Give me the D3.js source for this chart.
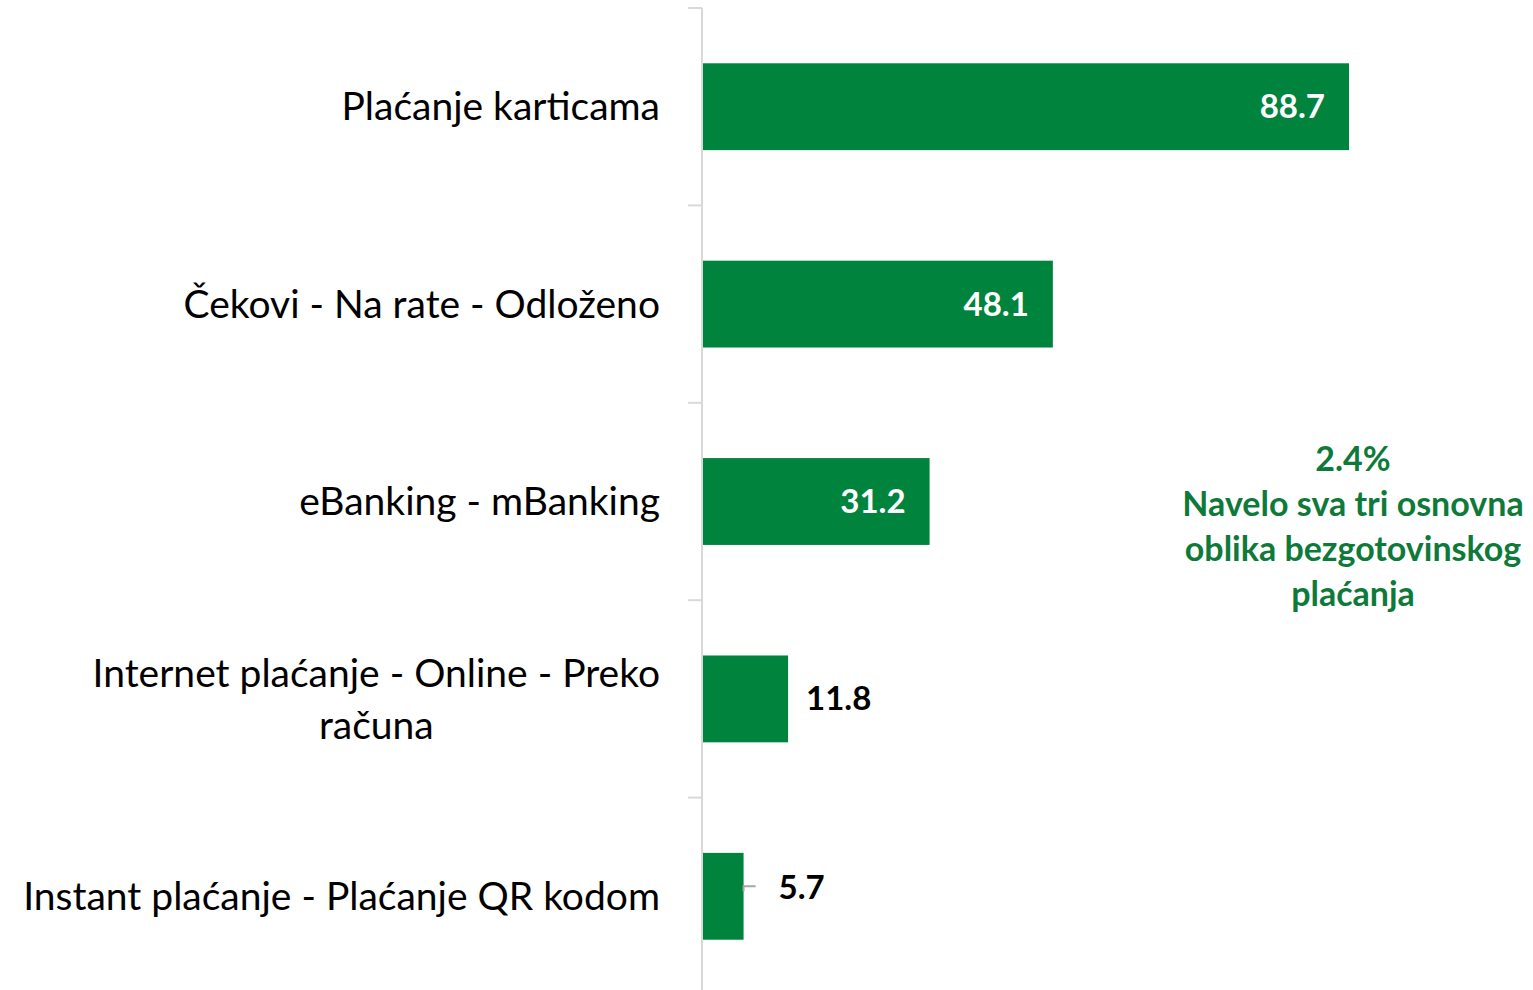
<!DOCTYPE html>
<html>
<head>
<meta charset="utf-8">
<script src="https://cdn.jsdelivr.net/npm/d3@7"></script>
<style>
  body { margin: 0; background: #fff; }
  svg { display: block; font-family: Lato, 'Open Sans', sans-serif; }
  .cat { font-size: 39px; fill: #000; }
  .val { font-size: 33px; font-weight: 700; }
  .note { font-size: 34px; font-weight: 700; fill: #0e7a3a; }
</style>
</head>
<body>
<script>
// data
const categories = [
  ['Plaćanje karticama'],
  ['Čekovi - Na rate - Odloženo'],
  ['eBanking - mBanking'],
  ['Internet plaćanje - Online - Preko', 'računa'],
  ['Instant plaćanje - Plaćanje QR kodom']
];
const values = [88.7, 48.1, 31.2, 11.8, 5.7];
const insideLabel = [true, true, true, false, false];
const noteLines = ['2.4%', 'Navelo sva tri osnovna', 'oblika bezgotovinskog', 'plaćanja'];

// svg params
const svgW = 1533;
const svgH = 990;
const axisX = 702;
const green = '#00843d';

const svg = d3.select('body').append('svg').attr('width', svgW).attr('height', svgH);

const x = d3.scaleLinear().domain([0, 88.7]).range([axisX, 1349]);
const y = d3.scaleBand().domain(d3.range(values.length)).range([8, 995])
  .paddingInner(0.56).paddingOuter(0.28);

// bars
svg.selectAll('rect.bar')
  .data(values)
  .join('rect')
  .attr('class', 'bar')
  .attr('x', x(0))
  .attr('y', (d, i) => y(i))
  .attr('width', (d) => x(d) - x(0))
  .attr('height', y.bandwidth())
  .attr('fill', green);

// axis line + ticks at band boundaries
const step = y.step();
const y0 = y.range()[0];
svg.append('line')
  .attr('x1', axisX).attr('x2', axisX)
  .attr('y1', y0).attr('y2', svgH)
  .attr('stroke', '#d9d9d9').attr('stroke-width', 2);
d3.range(values.length + 1).forEach((i) => {
  svg.append('line')
    .attr('x1', axisX - 14).attr('x2', axisX)
    .attr('y1', y0 + i * step).attr('y2', y0 + i * step)
    .attr('stroke', '#d9d9d9').attr('stroke-width', 2);
});

// category labels
const labelRight = 660;
categories.forEach((lines, i) => {
  const cy = y(i) + y.bandwidth() / 2;
  const lh = 52;
  const t = svg.append('text').attr('class', 'cat');
  if (lines.length === 1) {
    t.attr('x', labelRight).attr('y', cy).attr('dy', '0.35em')
      .attr('text-anchor', 'end').text(lines[0]);
  } else {
    t.attr('text-anchor', 'middle');
    lines.forEach((l, li) => {
      t.append('tspan').attr('x', 0)
        .attr('y', cy + (li - (lines.length - 1) / 2) * lh).attr('dy', '0.35em').text(l);
    });
    const w = t.node().getBBox().width;
    t.selectAll('tspan').attr('x', labelRight - w / 2);
  }
});

// value labels
values.forEach((v, i) => {
  const cy = y(i) + y.bandwidth() / 2;
  if (insideLabel[i]) {
    svg.append('text').attr('class', 'val')
      .attr('x', x(v) - 24).attr('y', cy).attr('dy', '0.35em')
      .attr('text-anchor', 'end').attr('fill', '#fff')
      .text(d3.format('.1f')(v));
  } else {
    const small = x(v) - x(0) < 50;
    const ly = small ? cy - 9 : cy;
    if (small) {
      svg.append('path')
        .attr('d', `M${x(v)},${ly + 4}V${ly - 1}H${x(v) + 12}`)
        .attr('fill', 'none').attr('stroke', '#a6a6a6').attr('stroke-width', 2);
    }
    svg.append('text').attr('class', 'val')
      .attr('x', x(v) + (small ? 35 : 18)).attr('y', ly).attr('dy', '0.35em')
      .attr('fill', '#000')
      .text(d3.format('.1f')(v));
  }
});

// annotation
const note = svg.append('text').attr('class', 'note').attr('text-anchor', 'middle');
noteLines.forEach((l, i) => {
  note.append('tspan').attr('x', 1353).attr('y', 459 + i * 45).attr('dy', '0.35em').text(l);
});
</script>
</body>
</html>
